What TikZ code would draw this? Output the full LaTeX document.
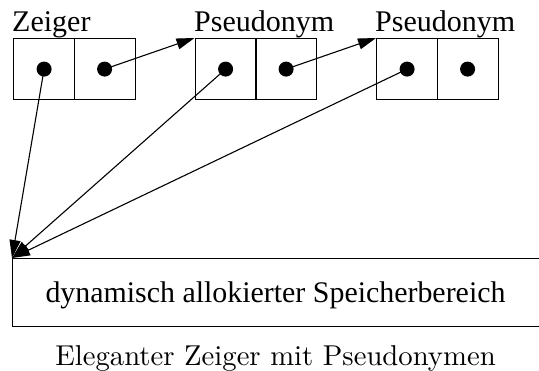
\documentclass[tikz,border=0pt]{standalone}
\usepackage{fontspec}
\setmainfont{Liberation Serif}
\newfontfamily\lmfont{lmroman10-regular.otf}
\usetikzlibrary{arrows.meta}
\begin{document}
\begin{tikzpicture}[x=1pt,y=-1pt,
  cell/.style={draw,line width=1.2pt,minimum width=61pt,minimum height=61pt,inner sep=0pt,anchor=north west},
  dot/.style={circle,fill=black,minimum size=15pt,inner sep=0pt},
  lbl/.style={font=\fontsize{30}{30}\selectfont,anchor=base west,inner sep=0pt},
  ptr/.style={line width=1.1pt,-{Triangle[length=18pt,width=11pt]}}]
\useasboundingbox (0,0) rectangle (539,371);
\begin{scope}
\clip (0,0) rectangle (539,371);
% box 1
\node[cell] (a1) at (13,38) {};
\node[cell] (a2) at (73.5,38) {};
\node[dot] (da1) at (a1.center) {};
\node[dot] (da2) at (a2.center) {};
% box 2
\node[cell] (b1) at (194.5,38) {};
\node[cell] (b2) at (255,38) {};
\node[dot] (db1) at (b1.center) {};
\node[dot] (db2) at (b2.center) {};
% box 3
\node[cell] (c1) at (376,38) {};
\node[cell] (c2) at (436.5,38) {};
\node[dot] (dc1) at (c1.center) {};
\node[dot] (dc2) at (c2.center) {};
% labels
\node[lbl] (la) at (12,31.5) {Zeiger};
\node[lbl] (lb) at (194,31.5) {Pseudonym};
\node[lbl] (lc) at (375,31.5) {Pseudonym};
% memory
\node[draw,line width=1.2pt,minimum width=528pt,minimum height=68pt,inner sep=0pt,anchor=north west] (mem) at (12,258) {};
\node[font=\fontsize{29.9}{29.9}\selectfont,anchor=base,inner sep=0pt] (memtext) at (275.5,303) {dynamisch allokierter Speicherbereich};
% caption
\node[font=\lmfont\fontsize{28.7}{28.7}\selectfont,inner sep=0pt,anchor=base] (cap) at (275.5,366) {Eleganter Zeiger mit Pseudonymen};
% pointers
\draw[ptr] (da2.center) -- (b1.north west);
\draw[ptr] (db2.center) -- (c1.north west);
\draw[ptr] (da1.center) -- (mem.north west);
\draw[ptr] (db1.center) -- (mem.north west);
\draw[ptr] (dc1.center) -- (mem.north west);
\end{scope}
\end{tikzpicture}
\end{document}
